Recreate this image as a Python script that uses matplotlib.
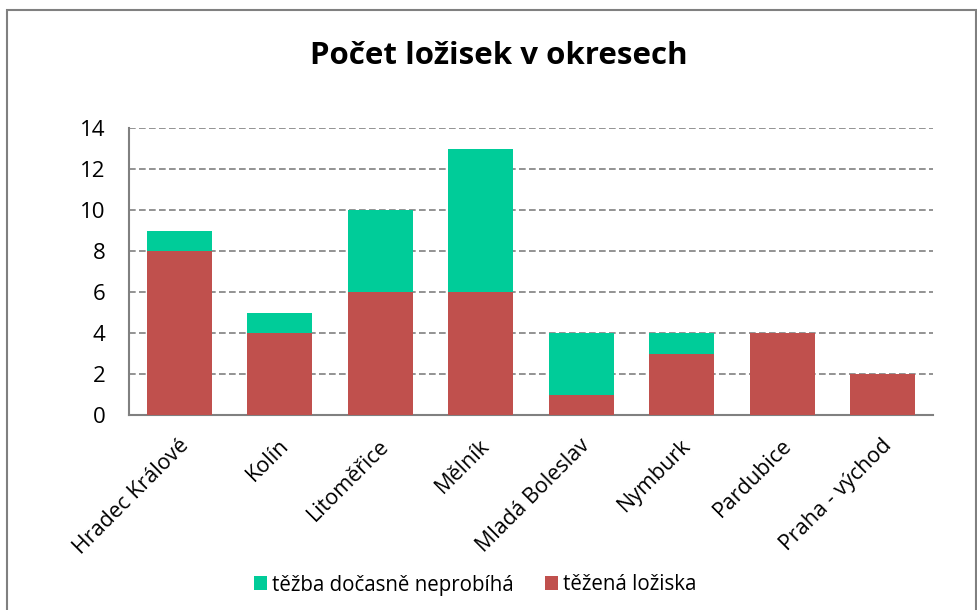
import matplotlib
matplotlib.use('Agg')
import matplotlib.pyplot as plt
import matplotlib.transforms as mtransforms
from matplotlib.patches import Rectangle

districts = ['Hradec Králové', 'Kolín', 'Litoměřice', 'Mělník',
             'Mladá Boleslav', 'Nymburk', 'Pardubice', 'Praha - východ']
mined = [8, 4, 6, 6, 1, 3, 4, 2]
paused = [1, 1, 4, 7, 3, 1, 0, 0]

plt.rcParams['font.family'] = ['Open Sans', 'DejaVu Sans']

fig = plt.figure(figsize=(9.77, 6.10), dpi=100)
ax = fig.add_axes([129 / 977, 1 - 415 / 610, 804 / 977, 287 / 610])

x = range(len(districts))
b_red = ax.bar(x, mined, width=0.65, color='#C0504D', label='těžená ložiska', zorder=3)
b_green = ax.bar(x, paused, width=0.65, bottom=mined, color='#00CC99',
                 label='těžba dočasně neprobíhá', zorder=3)

ax.set_xlim(-0.5, len(districts) - 0.5)
ax.set_ylim(0, 14)
ax.set_yticks(range(0, 15, 2))
ax.yaxis.grid(True, linestyle=(0, (4, 2)), color='#808080', linewidth=1.2, zorder=0)
ax.tick_params(axis='y', length=0, labelsize=16, pad=17)
ax.set_xticks(list(x))
ax.set_xticklabels(districts, rotation=45, ha='right', va='center',
                   rotation_mode='anchor', fontsize=15.5)
ax.tick_params(axis='x', length=0, pad=20)
shift = mtransforms.ScaledTranslation(6 / 100, 0, fig.dpi_scale_trans)
for lab in ax.get_xticklabels():
    lab.set_transform(lab.get_transform() + shift)
for s in ['top', 'right']:
    ax.spines[s].set_visible(False)
for s in ['left', 'bottom']:
    ax.spines[s].set_color('#808080')
    ax.spines[s].set_linewidth(1.5)

fig.text(499 / 977, 1 - 56 / 610, 'Počet ložisek v okresech', ha='center', va='center',
         fontsize=22.5, fontweight='bold')

fig.legend(handles=[b_green, b_red], loc='center', bbox_to_anchor=(475 / 977, 1 - 585 / 610),
           ncol=2, frameon=False, fontsize=14.8, handlelength=0.65, handleheight=0.65,
           handletextpad=0.25, columnspacing=1.5)

fig.patches.append(Rectangle((7 / 977, -0.05), 969 / 977, 1.05 - 10 / 610,
                             transform=fig.transFigure, fill=False,
                             edgecolor='#808080', linewidth=1.5))

fig.savefig('out.png', dpi=100)
